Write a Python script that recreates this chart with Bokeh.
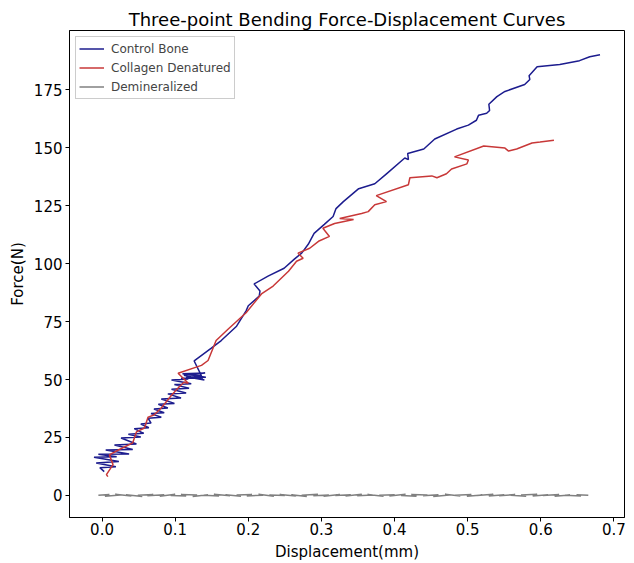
from bokeh.plotting import figure
from bokeh.models import Range1d, FixedTicker, NumeralTickFormatter, Legend, LegendItem
from bokeh.embed import file_html
from bokeh.resources import INLINE

# Control Bone
ctrl_x = [0.003, -0.003, 0.019, -0.008, 0.023, -0.011, 0.020, -0.005, 0.037, 0.005, 0.042, 0.017,
          0.047, 0.026, 0.053, 0.036, 0.057, 0.044, 0.064, 0.053, 0.067, 0.063, 0.081, 0.067,
          0.085, 0.071, 0.090, 0.077, 0.099, 0.081, 0.108, 0.090, 0.115, 0.095, 0.119, 0.099,
          0.122, 0.095, 0.118, 0.108, 0.142, 0.110, 0.141, 0.112, 0.140, 0.115, 0.138, 0.120,
          0.136, 0.126, 0.149, 0.163, 0.184,
          0.197, 0.200, 0.215, 0.216, 0.208, 0.227, 0.249, 0.263, 0.273, 0.282, 0.290, 0.304,
          0.316, 0.320, 0.330, 0.351, 0.373, 0.389, 0.414, 0.419, 0.418, 0.440, 0.455, 0.485,
          0.501, 0.512, 0.515, 0.526, 0.530, 0.529, 0.540, 0.551, 0.578, 0.585, 0.584, 0.595,
          0.626, 0.653, 0.667, 0.681]
ctrl_y = [10.3, 12.0, 12.4, 14.0, 14.6, 16.5, 16.7, 17.8, 17.9, 19.6, 19.8, 21.8,
          22.2, 24.8, 25.2, 26.4, 26.8, 28.8, 29.2, 30.8, 31.2, 33.3, 33.7, 35.3,
          35.7, 37.3, 37.7, 39.3, 39.7, 41.6, 42.0, 43.8, 44.2, 45.8, 46.2, 47.8,
          48.2, 49.8, 50.2, 50.5, 51.0, 52.5, 52.8, 51.8, 49.8, 51.2, 50.5, 52.0,
          51.6, 58.0, 63.4, 66.8, 73.0,
          79.6, 81.8, 86.0, 88.2, 91.2, 94.6, 98.0, 101.9, 104.5, 108.3, 113.0, 116.9,
          120.3, 123.7, 126.7, 132.3, 134.4, 138.7, 145.5, 144.8, 147.5, 149.4, 153.7, 158.0,
          159.7, 161.8, 164.0, 164.8, 166.0, 168.7, 172.0, 174.2, 177.2, 179.4, 181.0, 184.9,
          185.8, 187.5, 189.2, 190.0]

# Collagen Denatured
coll_x = [0.008, 0.006, 0.015, 0.010, 0.023, 0.042, 0.047, 0.058, 0.063, 0.071, 0.081, 0.095,
          0.105, 0.112, 0.118, 0.104, 0.136, 0.145, 0.156, 0.173, 0.197, 0.218, 0.234, 0.255,
          0.266, 0.275, 0.268, 0.284, 0.296, 0.311, 0.302, 0.318, 0.344, 0.325, 0.355, 0.364,
          0.373, 0.389, 0.375, 0.419, 0.421, 0.451, 0.458, 0.471, 0.478, 0.499, 0.501, 0.482,
          0.522, 0.551, 0.556, 0.567, 0.588, 0.599, 0.618]
coll_y = [8.1, 9.0, 13.3, 17.5, 19.7, 22.7, 27.4, 29.1, 33.8, 34.7, 37.7, 43.2,
          46.7, 48.8, 48.4, 52.7, 56.1, 58.2, 66.8, 71.9, 78.8, 86.9, 90.3, 96.7,
          101.0, 102.3, 104.5, 106.6, 109.6, 111.7, 115.2, 117.3, 119.0, 119.4, 121.6, 122.4,
          125.4, 126.7, 129.3, 134.0, 137.0, 137.8, 137.0, 138.7, 140.8, 143.0, 144.7, 146.0,
          150.7, 149.8, 148.5, 149.4, 152.0, 152.4, 153.2]

# Demineralized
dem_x = [-0.005, 0.010, 0.004, 0.025, 0.018, 0.040, 0.033, 0.055, 0.049, 0.070, 0.062, 0.085,
         0.079, 0.100, 0.094, 0.115, 0.108, 0.130, 0.124, 0.145, 0.139, 0.160, 0.153, 0.175,
         0.169, 0.190, 0.184, 0.205, 0.198, 0.220, 0.214, 0.235, 0.229, 0.250, 0.243, 0.265,
         0.259, 0.280, 0.273, 0.295, 0.289, 0.310, 0.303, 0.325, 0.319, 0.340, 0.333, 0.355,
         0.349, 0.370, 0.363, 0.385, 0.379, 0.400, 0.393, 0.415, 0.409, 0.430, 0.423, 0.445,
         0.439, 0.460, 0.453, 0.475, 0.469, 0.490, 0.483, 0.505, 0.499, 0.520, 0.513, 0.535,
         0.529, 0.550, 0.543, 0.565, 0.559, 0.580, 0.573, 0.595, 0.589, 0.610, 0.603, 0.625,
         0.619, 0.640, 0.633, 0.655, 0.649, 0.665]
dem_y = [0.1, 0.4, -0.3, 0.2, 0.5, -0.2, 0.3, -0.4, 0.1, 0.4, -0.1, 0.3,
         -0.3, 0.5, 0.0, -0.2, 0.4, 0.2, -0.4, 0.3, 0.1, -0.2, 0.5, -0.1,
         0.3, -0.3, 0.2, 0.4, -0.2, 0.1, 0.5, -0.3, 0.2, 0.0, 0.4, -0.2,
         0.3, -0.4, 0.1, 0.5, -0.1, 0.2, -0.3, 0.4, 0.0, 0.3, -0.2, 0.5,
         -0.1, 0.2, 0.4, -0.3, 0.1, 0.3, -0.2, 0.5, 0.0, -0.3, 0.4, 0.2,
         -0.1, 0.3, -0.4, 0.2, 0.5, -0.2, 0.1, 0.4, -0.3, 0.2, 0.0, 0.5,
         -0.2, 0.3, -0.1, 0.4, 0.1, -0.3, 0.2, 0.5, -0.2, 0.3, 0.0, 0.4,
         -0.3, 0.2, 0.1, -0.2, 0.3, 0.1]

x_ticks = [0.0, 0.1, 0.2, 0.3, 0.4, 0.5, 0.6, 0.7]
y_ticks = [0, 25, 50, 75, 100, 125, 150, 175]

FONT = "DejaVu Sans"

p = figure(width=634, height=563, output_backend="svg", toolbar_location=None,
           x_range=Range1d(-0.0445, 0.7145), y_range=Range1d(-9.5, 200.5),
           title="Three-point Bending Force-Displacement Curves",
           min_border_left=69, min_border_right=10, min_border_top=30, min_border_bottom=45)

p.title.text_font = FONT
p.title.text_font_size = "18px"
p.title.text_font_style = "normal"
p.title.text_color = "black"
p.title.align = "center"
p.title.offset = 0
p.title.standoff = 2

p.xgrid.visible = False
p.ygrid.visible = False
p.outline_line_color = "black"
p.outline_line_alpha = 1
p.outline_line_width = 1

for ax in (p.xaxis[0], p.yaxis[0]):
    ax.axis_label_text_font = FONT
    ax.axis_label_text_font_size = "15px"
    ax.axis_label_text_font_style = "normal"
    ax.axis_label_text_color = "black"
    ax.axis_label_text_line_height = 1.0
    ax.major_label_text_font = FONT
    ax.major_label_text_font_size = "15px"
    ax.major_label_text_color = "black"
    ax.major_label_text_line_height = 1.0
    ax.major_tick_out = 4
    ax.major_tick_in = 0
    ax.minor_tick_out = 0
    ax.minor_tick_in = 0
    ax.axis_line_color = "black"
    ax.major_tick_line_color = "black"

p.xaxis.axis_label = "Displacement(mm)"
p.yaxis.axis_label = "Force(N)"
p.xaxis.ticker = FixedTicker(ticks=x_ticks)
p.yaxis.ticker = FixedTicker(ticks=y_ticks)
p.xaxis.formatter = NumeralTickFormatter(format="0.0")
p.xaxis.major_label_standoff = 1
p.xaxis.axis_label_standoff = 5
p.yaxis.major_label_standoff = 3
p.yaxis.axis_label_standoff = 4

r1 = p.line(ctrl_x, ctrl_y, line_color="#1c1c8e", line_width=1.5)
r2 = p.line(coll_x, coll_y, line_color="#c83838", line_width=1.5)
r3 = p.line(dem_x, dem_y, line_color="#808080", line_width=1.5)

legend = Legend(items=[LegendItem(label="Control Bone", renderers=[r1]),
                       LegendItem(label="Collagen Denatured", renderers=[r2]),
                       LegendItem(label="Demineralized", renderers=[r3])],
                location="top_left")
legend.label_text_font = FONT
legend.label_text_font_size = "12px"
legend.border_line_color = "#cccccc"
legend.border_line_alpha = 1
legend.glyph_width = 25
legend.glyph_height = 17
legend.label_height = 17
legend.spacing = 2
legend.padding = 3
legend.margin = 6
legend.label_standoff = 7
p.add_layout(legend)

open("out.html", "w").write(file_html(p, INLINE))
